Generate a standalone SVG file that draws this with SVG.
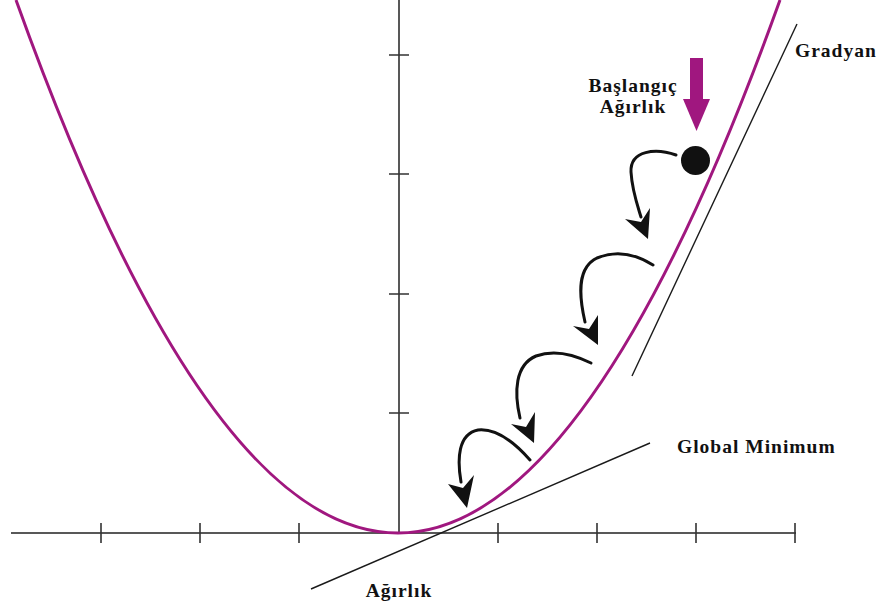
<svg xmlns="http://www.w3.org/2000/svg" width="880" height="609" viewBox="0 0 880 609">
<style>
.axis{stroke:#585858;stroke-width:2;fill:none}
.tick{stroke:#333;stroke-width:1.6;fill:none}
.tan{stroke:#1a1a1a;stroke-width:1.4;fill:none}
.curve{stroke:#a0177f;stroke-width:3;fill:none}
.step{stroke:#111;stroke-width:3;fill:none;stroke-linecap:round}
.head{fill:#111}
.lbl{font-family:"Liberation Serif","Times New Roman",serif;font-weight:bold;font-size:19.5px;fill:#111;letter-spacing:1px}
</style>
<rect width="880" height="609" fill="#fff"/>
<g id="axes">
<line class="axis" x1="399" y1="0" x2="399" y2="533"/>
<line class="axis" x1="11" y1="533" x2="796" y2="533"/>
<path class="tick" d="M389 55H409M389 174H409M389 294H409M389 413H409"/>
<path class="tick" d="M101 523V543M200 523V543M299 523V543M498 523V543M597 523V543M696 523V543M795 523V543"/>
</g>
<g id="parabola">
<path class="curve" d="M16 0Q398 1066 780 0"/>
</g>
<g id="tangents">
<line class="tan" x1="797" y1="24" x2="632" y2="376"/>
<line class="tan" x1="311" y1="589" x2="650" y2="443"/>
</g>
<g id="ball">
<circle cx="695.5" cy="160.5" r="14.5" fill="#111"/>
</g>
<g id="start-arrow">
<rect x="690" y="58" width="13" height="43" fill="#a0177f"/>
<polygon points="683,99 710,99 696.5,131" fill="#a0177f"/>
</g>
<g id="connectors">
<path class="step" d="M676 155C656 148 630 150 631 172C632 190 637 204 641 217"/>
<polygon class="head" points="648,239 625,219 641,222 650,208"/>
<path class="step" d="M653 265C637 255 617 250 597 258C578 267 578 292 585 322"/>
<polygon class="head" points="598,345 573,326 589,329 598,315"/>
<path class="step" d="M591 363C575 355 555 349 536 356C515 365 514 392 520 418"/>
<polygon class="head" points="534,443 511,424 526,427 535,412"/>
<path class="step" d="M530 460C515 443 497 428 478 430C458 434 457 459 461 482"/>
<polygon class="head" points="467,508 448,484 463,488 474,475"/>
</g>
<g id="labels">
<text class="lbl" x="795" y="57">Gradyan</text>
<text class="lbl" x="633" y="92" text-anchor="middle">Başlangıç</text>
<text class="lbl" x="633" y="113" text-anchor="middle">Ağırlık</text>
<text class="lbl" x="677" y="453">Global Minimum</text>
<text class="lbl" x="399" y="597" text-anchor="middle">Ağırlık</text>
</g>
</svg>
